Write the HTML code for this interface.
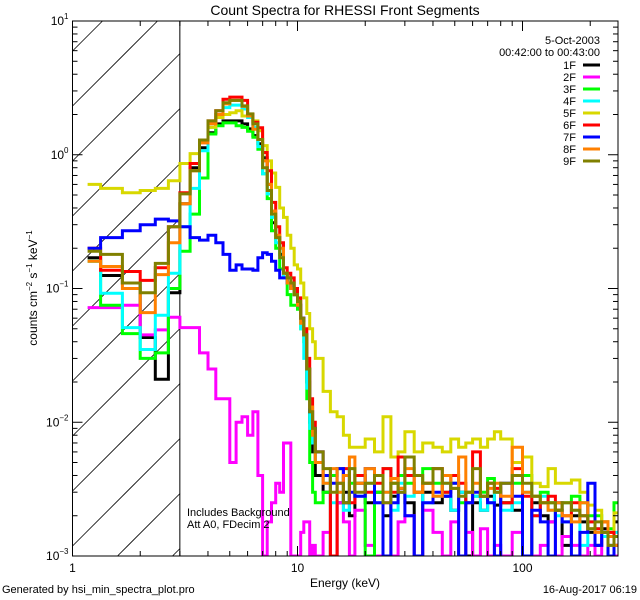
<!DOCTYPE html>
<html><head><meta charset="utf-8"><style>
html,body{margin:0;padding:0;background:#fff;width:640px;height:600px;overflow:hidden;}
svg{display:block;font-family:"Liberation Sans",sans-serif;}
</style></head><body>
<svg id="chart" width="640" height="600" viewBox="0 0 640 600" xmlns="http://www.w3.org/2000/svg">
<rect width="640" height="600" fill="#fff"/>
<text x="345" y="15" font-size="14" text-anchor="middle">Count Spectra for RHESSI Front Segments</text>
<defs><clipPath id="pc"><rect x="72.5" y="21" width="545.5" height="535"/></clipPath></defs>
<g id="hatch"></g>
<g id="series" clip-path="url(#pc)"></g>
<g id="axes"></g>
<text x="345" y="587" font-size="12" text-anchor="middle">Energy (keV)</text>
<text transform="translate(37,288) rotate(-90)" font-size="12" text-anchor="middle">counts cm<tspan font-size="8" dy="-5">−2</tspan><tspan dy="5"> s</tspan><tspan font-size="8" dy="-5">−1</tspan><tspan dy="5"> keV</tspan><tspan font-size="8" dy="-5">−1</tspan></text>
<text x="2" y="593" font-size="11">Generated by hsi_min_spectra_plot.pro</text>
<text x="637" y="593" font-size="11" text-anchor="end">16-Aug-2017 06:19</text>
<text x="600" y="44" font-size="11" text-anchor="end">5-Oct-2003</text>
<text x="600" y="56" font-size="11" text-anchor="end">00:42:00 to 00:43:00</text>
<text x="187" y="516" font-size="11">Includes Background</text>
<text x="187" y="528" font-size="11">Att A0, FDecim 2</text>
<g id="legend"></g>
</svg>
<script>
const edges=[1.1667,1.333,1.667,2,2.333,2.667,3,3.333,3.667,4,4.333,4.667,5,5.333,5.667,6,6.333,6.667,7,7.333,7.667,8,8.333,8.667,9,9.333,9.667,10,10.333,10.667,11,11.333,11.667,12,13,14,15,16,17,18,20,22,24,26,28,30,33,36,40,44,48,52,56,60,65,70,75,80,90,100,110,120,130,140,150,165,180,195,210,225,240,255,266];
const seriesNames=["1F","2F","3F","4F","5F","6F","7F","8F","9F"];
const seriesColors=["#000000","#ff00ff","#00ff00","#00ffff","#d8d800","#ff0000","#0000ff","#ff8000","#808000"];
const s1F=[0.17,0.125,0.11,0.043,0.021,0.093,0.43,0.80,1.13,1.46,1.70,1.79,1.79,1.79,1.70,1.56,1.39,1.21,0.95,0.60,0.31,0.24,0.18,0.13,0.11,0.10,0.09,0.075,0.06,0.045,0.02,0.01,0.006,
0.004,0.003,0.0008,0.0025,0.003,0.002,0.0035,0.0025,0.003,0.002,0.0028,0.0032,0.0025,0.0008,0.003,0.0025,0.0028,0.0022,0.003,0.0008,0.0025,0.0022,0.0028,0.0024,0.0025,0.0022,0.0008,0.0025,0.002,0.0018,0.0022,0.0012,0.002,0.0018,0.0015,0.0012,0.0016,0.0014,0.0018];
const s2F=[0.072,0.072,0.075,0.045,0.049,0.061,0.051,0.051,0.033,0.025,0.015,0.015,0.005,0.01,0.011,0.008,0.012,0.004,0.0008,0.0018,0.0025,0.0035,0.003,0.007,0.007,0.0008,0.0008,0.0008,0.0015,0.0018,0.0018,0.0008,0.0012,
0.0008,0.0015,0.0008,0.0025,0.0018,0.0008,0.0022,0.0012,0.0008,0.0025,0.0008,0.0018,0.002,0.0008,0.0022,0.0015,0.0008,0.0018,0.0008,0.0015,0.0008,0.0016,0.0008,0.0012,0.0008,0.0015,0.0008,0.0008,0.0012,0.0018,0.0008,0.0014,0.0012,0.0008,0.0012,0.0008,0.0014,0.0012,0.0008];
const s3F=[0.16,0.075,0.046,0.030,0.033,0.10,0.19,0.36,0.67,1.43,1.65,1.73,1.73,1.65,1.6,1.5,1.35,1.1,0.72,0.47,0.27,0.2,0.14,0.13,0.09,0.075,0.075,0.07,0.05,0.04,0.015,0.005,0.003,
0.0025,0.003,0.004,0.0045,0.0025,0.0035,0.004,0.0008,0.003,0.0045,0.0035,0.004,0.0035,0.003,0.0045,0.0035,0.003,0.0035,0.0025,0.003,0.0028,0.003,0.0038,0.003,0.0025,0.0035,0.004,0.0028,0.003,0.0025,0.0022,0.0025,0.0028,0.0025,0.002,0.002,0.0018,0.0016,0.0025];
const s4F=[0.16,0.092,0.051,0.035,0.063,0.13,0.29,0.56,1.07,1.60,2.0,2.25,2.35,2.35,2.2,1.9,1.6,1.15,0.72,0.51,0.34,0.22,0.17,0.12,0.11,0.10,0.09,0.075,0.05,0.03,0.018,0.009,0.007,
0.005,0.0035,0.0025,0.003,0.0022,0.0045,0.0028,0.0035,0.0025,0.003,0.0022,0.0035,0.0028,0.003,0.0025,0.0028,0.0035,0.0022,0.003,0.0025,0.0028,0.0022,0.0025,0.003,0.0022,0.0025,0.003,0.002,0.0028,0.0022,0.002,0.0018,0.0022,0.0012,0.0018,0.0016,0.0014,0.0012,0.0015];
const s5F=[0.60,0.56,0.52,0.54,0.56,0.64,0.86,1.02,1.25,1.6,1.9,2.0,2.06,2.13,1.95,1.95,1.79,1.51,1.17,0.90,0.73,0.57,0.4,0.34,0.25,0.2,0.15,0.14,0.11,0.085,0.065,0.05,0.04,
0.03,0.017,0.012,0.011,0.008,0.0065,0.0065,0.0075,0.006,0.011,0.0055,0.006,0.0085,0.006,0.007,0.0065,0.006,0.0075,0.0065,0.007,0.0075,0.0065,0.0075,0.0085,0.0075,0.005,0.0055,0.0035,0.0033,0.0045,0.0035,0.0035,0.0037,0.003,0.0024,0.0022,0.0018,0.0015,0.0021];
const s6F=[0.20,0.137,0.134,0.115,0.143,0.29,0.52,0.86,1.23,1.79,2.13,2.6,2.7,2.7,2.55,2.0,1.75,1.59,1.04,0.76,0.44,0.29,0.22,0.143,0.13,0.12,0.1,0.085,0.06,0.05,0.03,0.015,0.01,
0.006,0.004,0.0008,0.0035,0.0045,0.0025,0.004,0.003,0.0035,0.0045,0.003,0.0055,0.004,0.003,0.0035,0.0045,0.003,0.004,0.0035,0.0025,0.006,0.0028,0.0035,0.0032,0.0025,0.0045,0.0028,0.002,0.0025,0.0028,0.0022,0.002,0.0025,0.002,0.0018,0.0016,0.0018,0.0015,0.0012];
const s7F=[0.20,0.24,0.27,0.30,0.33,0.32,0.29,0.24,0.23,0.25,0.22,0.18,0.137,0.15,0.14,0.14,0.137,0.17,0.185,0.18,0.16,0.137,0.12,0.12,0.11,0.10,0.09,0.075,0.06,0.045,0.025,0.012,0.009,
0.006,0.004,0.0035,0.0045,0.0025,0.003,0.0028,0.0045,0.0025,0.0008,0.0025,0.003,0.002,0.0008,0.0025,0.003,0.0028,0.0035,0.0008,0.0025,0.003,0.0028,0.0025,0.0008,0.0035,0.0028,0.0008,0.0022,0.0018,0.0008,0.0025,0.0018,0.0008,0.0015,0.0035,0.0012,0.0015,0.0008,0.0012];
const s8F=[0.16,0.146,0.10,0.066,0.127,0.22,0.43,0.76,1.23,1.70,2.0,2.4,2.55,2.55,2.3,1.95,1.55,1.3,0.9,0.6,0.38,0.25,0.2,0.13,0.11,0.10,0.09,0.075,0.055,0.045,0.025,0.013,0.008,
0.005,0.0035,0.0045,0.003,0.004,0.0055,0.0035,0.0045,0.004,0.003,0.0038,0.0032,0.0045,0.003,0.0035,0.0028,0.004,0.0032,0.0055,0.003,0.0035,0.0028,0.0032,0.0035,0.0028,0.0065,0.003,0.0028,0.0025,0.0022,0.0025,0.002,0.0018,0.0025,0.0016,0.0015,0.0018,0.0014,0.0012];
const s9F=[0.19,0.18,0.11,0.093,0.154,0.29,0.51,0.76,1.29,1.79,2.13,2.45,2.55,2.55,2.32,2.02,1.7,1.3,0.8,0.54,0.36,0.24,0.17,0.13,0.12,0.11,0.09,0.08,0.06,0.045,0.025,0.012,0.009,
0.006,0.0045,0.003,0.0035,0.0025,0.0045,0.003,0.0035,0.004,0.0025,0.0035,0.003,0.0055,0.004,0.0035,0.0045,0.0035,0.0032,0.0028,0.003,0.0045,0.0028,0.0035,0.003,0.0035,0.004,0.0035,0.0028,0.0025,0.0025,0.0022,0.0025,0.0022,0.002,0.0016,0.0018,0.0015,0.0012,0.0014];
const xTickValues=[1,10,100];
const xTickLabels=["1","10","100"];
const yTickExps=[1,0,-1,-2,-3];
const hatchEnergy=3;

const allSeries=[s1F,s2F,s3F,s4F,s5F,s6F,s7F,s8F,s9F];
const X0=72.5,X1=618,Y0=21,Y1=556;
const xMin=1,xMax=Math.pow(10,(X1-X0)/225);
const yMin=1e-3,yMax=10;
function xs(e){return X0+(Math.log10(e)-Math.log10(xMin))/(Math.log10(xMax)-Math.log10(xMin))*(X1-X0);}
function ys(v){return Y1-(Math.log10(v)-Math.log10(yMin))/(Math.log10(yMax)-Math.log10(yMin))*(Y1-Y0);}
const NS="http://www.w3.org/2000/svg";
function mk(tag,attrs,parent){const el=document.createElementNS(NS,tag);for(const k in attrs)el.setAttribute(k,attrs[k]);parent.appendChild(el);return el;}

// hatch lines computed as clipped segments (45 degrees, rising to the right)
const hatch=document.getElementById('hatch');
const hx=xs(hatchEnergy);
for(let c=Y0+30;c<Y1+(hx-X0);c+=55){
  // line: y = c - (x - X0)
  let xa=X0, ya=c;
  if(ya>Y1){xa=X0+(ya-Y1);ya=Y1;}
  let xb=hx, yb=c-(hx-X0);
  if(yb<Y0){xb=X0+(c-Y0);yb=Y0;}
  if(xa>=xb)continue;
  const ln=mk('line',{x1:xa.toFixed(1),y1:ya.toFixed(1),x2:xb.toFixed(1),y2:yb.toFixed(1),stroke:'#000','stroke-width':0.8},hatch);
  
  
}
const hl=mk('line',{x1:hx,y1:Y0,x2:hx,y2:Y1,stroke:'#000','stroke-width':1},hatch);



const sg=document.getElementById('series');
allSeries.forEach((vals,si)=>{
  let d='';
  for(let i=0;i<vals.length;i++){
    const xa=xs(edges[i]),xb=Math.min(xs(edges[i+1]),X1);
    const y=Math.min(ys(vals[i]),Y1);
    d+=(i===0?'M':'L')+xa.toFixed(1)+','+y.toFixed(1)+'L'+xb.toFixed(1)+','+y.toFixed(1);
  }
  const p=mk('path',{d:d,fill:'none',stroke:seriesColors[si],'stroke-width':3,'stroke-linejoin':'miter'},sg);
  
  
});

const ax=document.getElementById('axes');
const fr=mk('rect',{x:X0,y:Y0,width:X1-X0,height:Y1-Y0,fill:'none',stroke:'#000','stroke-width':1},ax);


for(let dec=1;dec<=100;dec*=10){
  for(let m=1;m<=9;m++){
    const e=dec*m; if(e>xMax)break;
    const x=xs(e); const L=(m===1)?10:5;
    mk('line',{x1:x,y1:Y1,x2:x,y2:Y1-L,stroke:'#000'},ax);
    mk('line',{x1:x,y1:Y0,x2:x,y2:Y0+L,stroke:'#000'},ax);
  }
}
xTickValues.forEach((v,i)=>{
  const t=mk('text',{x:xs(v),y:Y1+16,'font-size':12,'text-anchor':'middle'},ax);
  t.textContent=xTickLabels[i];
  
  
});
for(let ex=-3;ex<1;ex++){
  for(let m=1;m<=9;m++){
    const y=ys(m*Math.pow(10,ex)); const L=(m===1)?10:5;
    mk('line',{x1:X0,y1:y,x2:X0+L,y2:y,stroke:'#000'},ax);
    mk('line',{x1:X1,y1:y,x2:X1-L,y2:y,stroke:'#000'},ax);
  }
}
yTickExps.forEach(ex=>{
  const y=ys(Math.pow(10,ex));
  const t=mk('text',{x:X0-4,y:y+4,'font-size':12,'text-anchor':'end'},ax);
  t.innerHTML='10<tspan font-size="8" dy="-6">'+(ex<0?'−'+(-ex):ex)+'</tspan>';
  
  
});

const lg=document.getElementById('legend');
seriesNames.forEach((n,i)=>{
  const y=65+i*12;
  const g=mk('g',{},lg);
  
  
  const t=mk('text',{x:576,y:y+4,'font-size':11,'text-anchor':'end'},g);
  t.textContent=n;
  mk('line',{x1:583,y1:y,x2:600,y2:y,stroke:seriesColors[i],'stroke-width':3},g);
});
</script>
</body></html>
